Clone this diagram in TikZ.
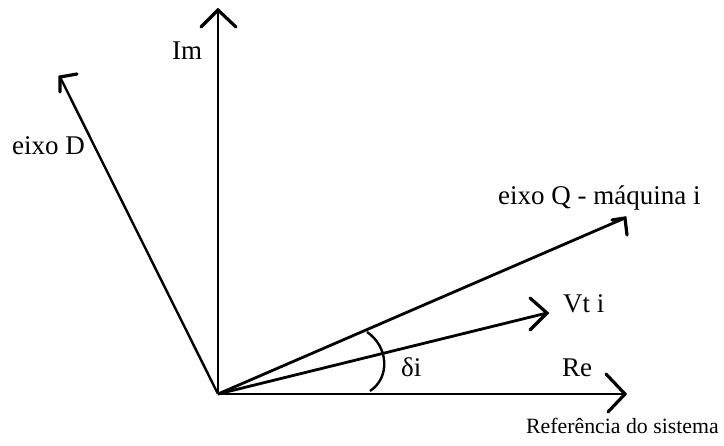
\documentclass[tikz,border=0pt]{standalone}
\usepackage{fontspec}
\setmainfont{Liberation Serif}
\tikzset{
  axisline/.style={line width=2.8pt},
  headline/.style={line width=3.2pt, line cap=round, line join=miter},
  lbl/.style={anchor=base west, inner sep=0pt, font=\fontsize{27}{30}\selectfont},
  lblsmall/.style={anchor=base west, inner sep=0pt, font=\fontsize{21.8}{26}\selectfont},
}
\begin{document}
\begin{tikzpicture}[x=1pt,y=-1pt]
\useasboundingbox (0,0) rectangle (724,446);
\fill[white] (0,0) rectangle (724,446);
% points
\coordinate (O) at (218,394);
\coordinate (ImT) at (218,10);
\coordinate (DT) at (60,77);
\coordinate (QT) at (625,218);
\coordinate (VT) at (547,313);
\coordinate (ReT) at (625,394);
% axes and vectors
\draw[axisline] (O) -- (ImT);
\draw[axisline] (O) -- (ReT);
\draw[axisline, line width=2.4pt] (O) -- (DT);
\draw[axisline] (O) -- (QT);
\draw[axisline] (O) -- (VT);
% arrow heads
\draw[headline] ([shift={(-17,17)}]ImT) -- (ImT) -- ([shift={(18,17)}]ImT);
\draw[headline] ([shift={(-19,-20)}]ReT) -- (ReT) -- ([shift={(-17,18)}]ReT);
\draw[headline] ([shift={(-17,-15)}]VT) -- (VT) -- ([shift={(-17,17)}]VT);
\draw[headline] ([shift={(17,-3)}]DT) -- (DT) -- ([shift={(0,15)}]DT);
\draw[headline] ([shift={(-13,2)}]QT) -- (QT) -- ([shift={(2,17)}]QT);
% angle mark
\coordinate (A1) at (367,332);
\coordinate (A2) at (370,391);
\draw[line width=2.4pt] (A1) .. controls (389,347) and (390,378) .. (A2);
% labels
\node[lbl] (im) at (172,60) {Im};
\node[lbl] (eixod) at (12,155) {eixo D};
\node[lbl] (eixoq) at (498,205) {eixo Q - máquina i};
\node[lbl] (vti) at (563,313) {Vt i};
\node[lbl] (re) at (562,377) {Re};
\node[lbl] (delta) at (401,377) {δi};
\node[lblsmall] (ref) at (526,434) {Referência do sistema};
\end{tikzpicture}
\end{document}
